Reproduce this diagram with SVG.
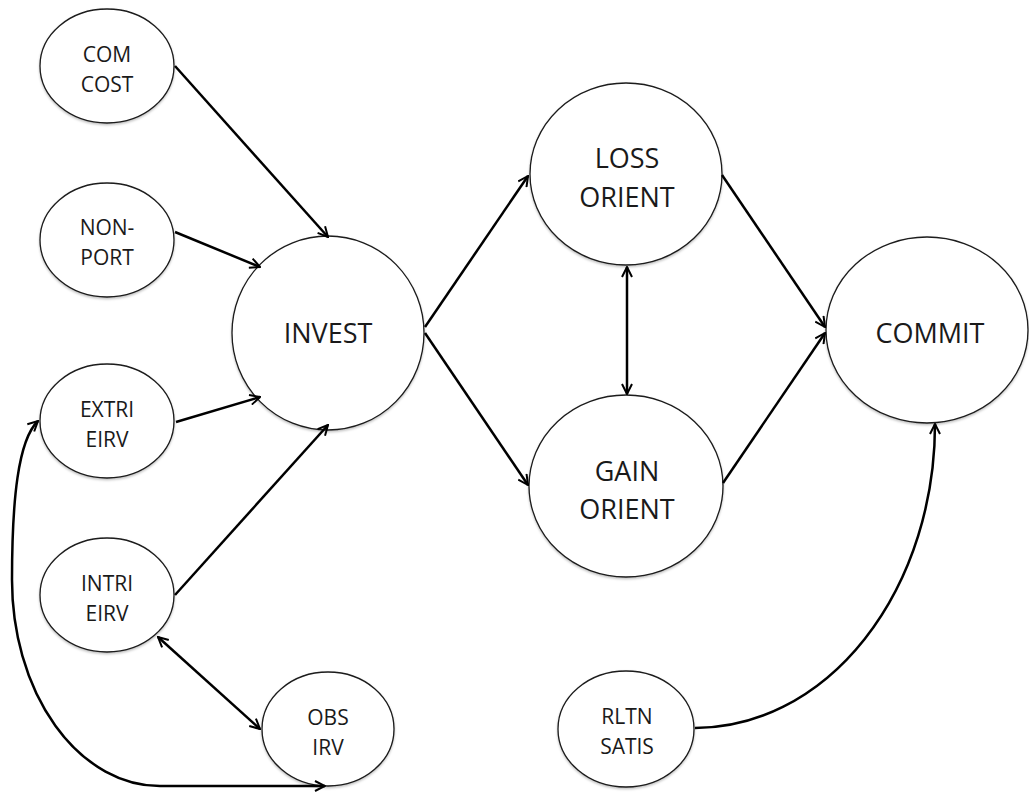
<svg xmlns="http://www.w3.org/2000/svg" width="1029" height="795" viewBox="0 0 1029 795">
  <style>
    .node ellipse { fill: #ffffff; stroke: #1a1a1a; stroke-width: 1.3; filter: url(#soft); }
    .node text { font-family: "Open Sans", "Liberation Sans", sans-serif; fill: #1a1a1a; text-anchor: middle; }
    .sm { font-size: 21px; }
    .lg { font-size: 27px; }
    .edges path { fill: none; stroke: #000000; stroke-width: 2.5; }
    .one { marker-end: url(#arrow); }
    .two { marker-start: url(#arrow); marker-end: url(#arrow); }
  </style>
  <defs>
    <filter id="soft" x="-10%" y="-10%" width="120%" height="125%">
      <feDropShadow dx="0" dy="1.5" stdDeviation="1.2" flood-color="#000000" flood-opacity="0.25"/>
    </filter>
    <marker id="arrow" viewBox="0 0 12 12" refX="11" refY="6" markerWidth="12" markerHeight="12" markerUnits="userSpaceOnUse" orient="auto-start-reverse">
      <path d="M1,1 L11,6 L1,11" fill="none" stroke="#000000" stroke-width="2" stroke-linejoin="miter"/>
    </marker>
  </defs>

  <rect width="1029" height="795" fill="#ffffff"/>

  <!-- nodes -->
  <g id="com-cost" class="node">
    <ellipse cx="107" cy="66" rx="67" ry="57"/>
    <text class="sm" x="107" y="62">COM</text>
    <text class="sm" x="107" y="92">COST</text>
  </g>
  <g id="non-port" class="node">
    <ellipse cx="107" cy="240" rx="67" ry="57"/>
    <text class="sm" x="107" y="235">NON-</text>
    <text class="sm" x="107" y="265">PORT</text>
  </g>
  <g id="extri-eirv" class="node">
    <ellipse cx="107" cy="421" rx="67" ry="57"/>
    <text class="sm" x="107" y="417">EXTRI</text>
    <text class="sm" x="107" y="447">EIRV</text>
  </g>
  <g id="intri-eirv" class="node">
    <ellipse cx="107" cy="595" rx="67" ry="57"/>
    <text class="sm" x="107" y="591">INTRI</text>
    <text class="sm" x="107" y="621">EIRV</text>
  </g>
  <g id="obs-irv" class="node">
    <ellipse cx="328" cy="729" rx="66" ry="57"/>
    <text class="sm" x="328" y="725">OBS</text>
    <text class="sm" x="328" y="755">IRV</text>
  </g>
  <g id="invest" class="node">
    <ellipse cx="328" cy="333" rx="96" ry="97"/>
    <text class="lg" x="328" y="343">INVEST</text>
  </g>
  <g id="loss-orient" class="node">
    <ellipse cx="626" cy="174" rx="96" ry="91"/>
    <text class="lg" x="627" y="168">LOSS</text>
    <text class="lg" x="627" y="207">ORIENT</text>
  </g>
  <g id="gain-orient" class="node">
    <ellipse cx="626" cy="486" rx="97" ry="91"/>
    <text class="lg" x="627" y="481">GAIN</text>
    <text class="lg" x="627" y="519">ORIENT</text>
  </g>
  <g id="commit" class="node">
    <ellipse cx="927" cy="330" rx="101" ry="93"/>
    <text class="lg" x="930" y="343">COMMIT</text>
  </g>
  <g id="rltn-satis" class="node">
    <ellipse cx="626" cy="729" rx="68" ry="58"/>
    <text class="sm" x="627" y="724">RLTN</text>
    <text class="sm" x="627" y="754">SATIS</text>
  </g>

  <!-- connectors, drawn over the node outlines -->
  <g class="edges">
    <path class="one" d="M175,66 L328,237"/>
    <path class="one" d="M175,232 L260,267"/>
    <path class="one" d="M176,422 L260,397"/>
    <path class="one" d="M175,595 L328,425"/>
    <path class="two" d="M158,637 L260,729"/>
    <path class="two" d="M38,421 C18,440 12,500 12,580 A148,206 0 0 0 160,786 L325,786"/>
    <path class="one" d="M425,327 L528,176"/>
    <path class="one" d="M425,333 L528,485"/>
    <path class="two" d="M627,267 L627,394"/>
    <path class="one" d="M722,175 L825,327"/>
    <path class="one" d="M723,483 L825,333"/>
    <path class="one" d="M695,728 A240,304 0 0 0 935,424"/>
  </g>
</svg>
